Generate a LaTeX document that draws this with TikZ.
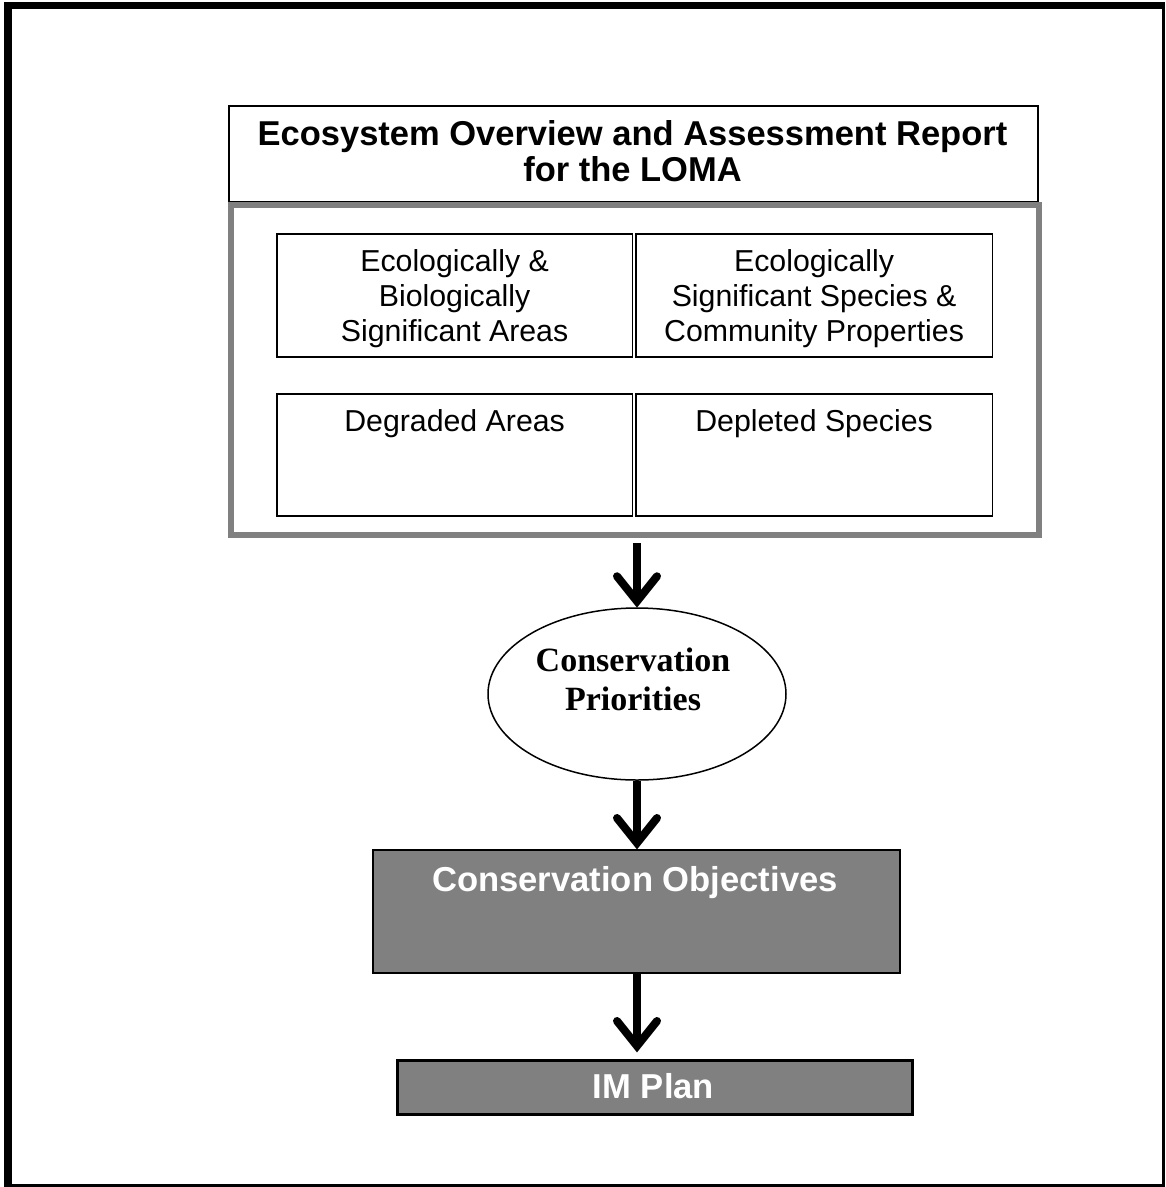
\documentclass[tikz,border=0pt]{standalone}
\usepackage{fontspec}
\setmainfont{Liberation Serif}
\setsansfont{Liberation Sans}
\usetikzlibrary{shapes.geometric,calc}
\definecolor{boxgray}{RGB}{128,128,128}
\newcommand{\mlines}[1]{\begin{tabular}[t]{@{}c@{}}#1\end{tabular}}
\tikzset{
  framebar/.style={fill=black},
  thinbox/.style={draw=black,line width=1.5pt,rectangle,inner sep=0pt,anchor=north west},
  graybox/.style={draw=boxgray,line width=6pt,rectangle,inner sep=0pt,anchor=north west},
  darkbox/.style={draw=black,fill=boxgray,rectangle,inner sep=0pt,anchor=north west},
  txt/.style={inner sep=0pt,anchor=base},
  titletxt/.style={txt,font=\sffamily\bfseries\fontsize{34.5}{36}\selectfont},
  bodytxt/.style={txt,font=\sffamily\fontsize{30.3}{35}\selectfont},
  prioritytxt/.style={txt,font=\rmfamily\bfseries\fontsize{34}{39}\selectfont},
  whitetxt/.style={txt,text=white,font=\sffamily\bfseries\fontsize{34.6}{36}\selectfont},
  shaft/.style={draw=black,line width=8pt,line cap=butt},
  chev/.style={draw=black,line width=8pt,line cap=round,line join=miter},
}
\begin{document}
\begin{tikzpicture}[x=1pt,y=-1pt]
\useasboundingbox (0,0) rectangle (1166,1187);
% outer frame
\fill[framebar] (4,1.7) rectangle (1165,9);
\fill[framebar] (4,1.7) rectangle (12,1186.7);
\fill[framebar] (1161.7,1.7) rectangle (1165,1186.7);
\fill[framebar] (4,1184.3) rectangle (1165,1186.7);

% title box
\node[thinbox,minimum width=809pt,minimum height=96pt] (title) at (228,105) {};
\node[titletxt] (titlet) at (632.5,145) {\mlines{Ecosystem Overview and Assessment Report\\for the LOMA}};

% gray container
\node[graybox,minimum width=808.5pt,minimum height=330.5pt] (gbox) at (227.5,201.5) {};

% inner boxes
\node[thinbox,minimum width=355.7pt,minimum height=123pt] (ebsa) at (276,233) {};
\node[thinbox,minimum width=356.7pt,minimum height=123pt] (essp) at (635,233) {};
\node[thinbox,minimum width=355.7pt,minimum height=122pt] (degr) at (276,393) {};
\node[thinbox,minimum width=356.7pt,minimum height=122pt] (depl) at (635,393) {};
\node[bodytxt] (ebsat) at ($(ebsa.north)+(0,38)$) {\mlines{Ecologically \&\\Biologically\\Significant Areas}};
\node[bodytxt] (esspt) at ($(essp.north)+(0,38)$) {\mlines{Ecologically\\Significant Species \&\\Community Properties}};
\node[bodytxt] (degrt) at ($(degr.north)+(0,38)$) {Degraded Areas};
\node[bodytxt] (deplt) at ($(depl.north)+(0,38)$) {Depleted Species};

% ellipse
\node[ellipse,draw=black,line width=1.5pt,minimum width=298pt,minimum height=172pt,inner sep=0pt] (ell) at (637,694) {};
\node[prioritytxt] (ellt) at (633,671.7) {\mlines{Conservation\\Priorities}};

% objectives
\node[darkbox,line width=2pt,minimum width=527pt,minimum height=123pt] (obj) at (372,849) {};
\node[whitetxt] (objt) at (635,891.7) {Conservation Objectives};

% IM plan
\node[darkbox,line width=2.5pt,minimum width=515pt,minimum height=54pt] (im) at (396,1059) {};
\node[whitetxt] (imt) at (653.5,1098) {IM Plan};

% arrows
\coordinate (s1) at ($(ell.north |- gbox.south)+(0,5)$);
\coordinate (t1) at ($(ell.north)+(0,-6)$);
\draw[shaft] (s1) -- (t1);
\draw[chev] ($(t1)+(-20,-25)$) -- (t1) -- ($(t1)+(20,-25)$);

\coordinate (t2) at ($(ell.south |- obj.north)+(0,-6)$);
\draw[shaft] (ell.south) -- (t2);
\draw[chev] ($(t2)+(-20,-25)$) -- (t2) -- ($(t2)+(20,-25)$);

\coordinate (s3) at (ell.south |- obj.south);
\coordinate (t3) at ($(ell.south |- im.north)+(0,-13)$);
\draw[shaft] (s3) -- (t3);
\draw[chev] ($(t3)+(-20,-25)$) -- (t3) -- ($(t3)+(20,-25)$);
\end{tikzpicture}
\end{document}
